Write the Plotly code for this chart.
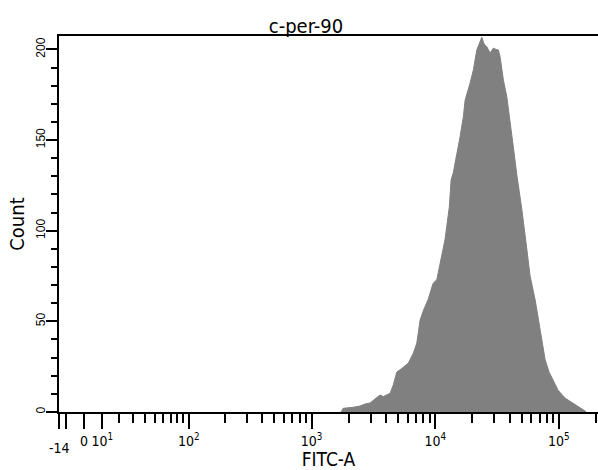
import numpy as np
import plotly.graph_objects as go

# ---- data ----
title_text = "c-per-90"
x_title = "FITC-A"
y_title = "Count"

# FITC-A intensity (bin positions) and event counts of the histogram outline
fitc_values = [1735, 1800, 2170, 2470, 2710, 2980, 3370, 3590, 3810, 4320,
               4590, 4890, 5370, 6070, 6660, 7100, 7550, 8030, 8760, 9620,
               10300, 10950, 12000, 13000, 13450, 14000, 14750, 15400, 15900, 16900,
               17450, 19150, 20350, 21700, 22650, 23800, 24850, 26100, 27800, 29500,
               31050, 32400, 33450, 35600, 37900, 40300, 42850, 45650, 50100, 55000,
               58500, 64200, 70500, 77300, 83300, 89800, 98500, 112000, 130000, 148000,
               163000, 166000]
counts = [0, 2, 2.6, 3.3, 4.4, 5, 8, 9.4, 8.5, 10.3,
          15, 22, 24, 27, 32.5, 38, 50.7, 56, 62, 71,
          73, 82, 95, 113, 128, 132, 140, 146, 152, 163,
          172, 181.5, 188.7, 199.7, 203, 206.7, 203, 201.5, 198, 200.7,
          200, 199.7, 196, 183, 174, 161, 146, 131, 112, 90,
          75, 62, 45, 29, 22, 17.7, 12, 7.7, 5, 2.2,
          0.5, 0]

# axis ticks (biexponential display)
x_major_vals = [-14, -10, 0, 10, 100, 1000, 10000, 100000]
x_major_text = ["", "", "0", "10<sup>1</sup>", "10<sup>2</sup>",
                "10<sup>3</sup>", "10<sup>4</sup>", "10<sup>5</sup>"]
x_min_value = -14
x_min_label = "-14"
x_minor_vals = ([20, 30, 40, 50, 60, 70, 80, 90] +
                [200, 300, 400, 500, 600, 700, 800, 900] +
                [2000, 3000, 4000, 5000, 6000, 7000, 8000, 9000] +
                [20000, 30000, 40000, 50000, 60000, 70000, 80000, 90000] +
                [200000])
x_range_vals = [-14, 207000]

y_major_vals = [0, 50, 100, 150, 200]
y_range = [0, 207.4]

# ---- biexponential-like (arcsinh) display transform ----
COFACTOR = 29.0


def biex(v):
    return np.arcsinh(np.asarray(v, dtype=float) / COFACTOR) / np.log(10)


NARROW = "Liberation Sans Narrow, Arial Narrow, DejaVu Sans Condensed, Liberation Sans, Arial, sans-serif"
FONT = "Liberation Sans, Arial, sans-serif"

fig = go.Figure()
fig.add_trace(go.Scatter(
    x=biex(fitc_values), y=counts,
    mode="lines",
    line=dict(color="#808080", width=1),
    fill="tozeroy", fillcolor="#808080",
    hoverinfo="skip", showlegend=False,
))

fig.add_annotation(
    x=float(biex(x_min_value)), xref="x", y=-0.097, yref="paper",
    text=x_min_label, showarrow=False, xanchor="center", yanchor="middle",
    font=dict(family=NARROW, size=14, color="black"),
)

fig.update_layout(
    width=598, height=470,
    margin=dict(l=59, r=0, t=36, b=58),
    paper_bgcolor="white", plot_bgcolor="white",
    font=dict(family=NARROW, color="black", size=14),
    title=dict(text=title_text, xref="container", x=306 / 598, xanchor="center",
               yref="container", y=1 - 26 / 470, yanchor="middle",
               font=dict(family=NARROW, size=20, color="black")),
)

fig.update_xaxes(
    range=list(biex(x_range_vals)),
    tickmode="array", tickvals=list(biex(x_major_vals)), ticktext=x_major_text,
    ticks="outside", ticklen=15, tickwidth=1.5, tickcolor="black",
    minor=dict(tickmode="array", tickvals=list(biex(x_minor_vals)),
               ticks="outside", ticklen=9, tickwidth=1.5, tickcolor="black"),
    showline=True, linecolor="black", linewidth=1.5, mirror=True,
    showgrid=False, zeroline=False, automargin=False,
    tickfont=dict(family=NARROW, size=14),
    title=dict(text=x_title, font=dict(family=NARROW, size=19), standoff=8),
)

fig.update_yaxes(
    range=y_range,
    tickmode="array", tickvals=y_major_vals,
    ticks="outside", ticklen=11, tickwidth=1.5, tickcolor="black",
    minor=dict(dtick=10, tick0=0, ticks="outside", ticklen=6, tickwidth=1.5,
               tickcolor="black"),
    tickangle=-90, ticklabelstandoff=-4,
    showline=True, linecolor="black", linewidth=1.5,
    showgrid=False, zeroline=False, automargin=False,
    tickfont=dict(family=FONT, size=12),
    title=dict(text=y_title, font=dict(family=NARROW, size=20), standoff=4),
)

fig.write_html("out.html", post_script="document.body.style.margin='0';",
               config={"displayModeBar": False})
